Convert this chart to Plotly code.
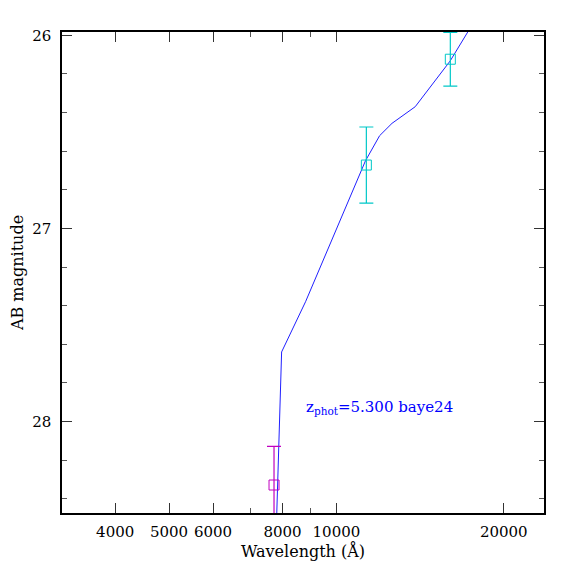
import math
import plotly.graph_objects as go

# Model SED (wavelength in Angstrom, AB magnitude)
model_wl = [7760, 7970, 8800, 9755, 11280, 11960, 12590, 13860, 14950, 16020, 17230, 18000]
model_mag = [28.75, 27.64, 27.38, 27.08, 26.65, 26.52, 26.456, 26.37, 26.249, 26.133, 25.983, 25.89]

# Photometric points
mag_wl = [7723]
mag_val = [28.329]
mag_err = [0.20]

cyan_wl = [11321, 16030]
cyan_val = [26.672, 26.124]
cyan_err = [0.197, 0.139]

x_tickvals = [4000, 5000, 6000, 8000, 10000, 20000]
x_ticktext = ["4000", "5000", "6000", "8000", "10000", "20000"]
x_minor = [7000, 9000]
y_tickvals = [26, 27, 28]
y_ticktext = ["26", "27", "28"]

x_range = [3209, 23630]
y_range = [28.474, 25.983]

label_text = "z<sub>phot</sub>=5.300 baye24"
label_wl = 8761
label_mag = 27.93

FONT = "DejaVu Serif"

fig = go.Figure()
fig.add_trace(go.Scatter(x=model_wl, y=model_mag, mode="lines",
                         line=dict(color="#2020ff", width=1), showlegend=False))
fig.add_trace(go.Scatter(x=mag_wl, y=mag_val, mode="markers",
                         marker=dict(symbol="square-open", size=10, color="#c000c0",
                                     line=dict(width=1, color="#c000c0")),
                         error_y=dict(type="data", array=mag_err, color="#c000c0",
                                      thickness=1.2, width=7),
                         cliponaxis=True, showlegend=False))
fig.add_trace(go.Scatter(x=cyan_wl, y=cyan_val, mode="markers",
                         marker=dict(symbol="square-open", size=10, color="#00c8c8",
                                     line=dict(width=1, color="#00c8c8")),
                         error_y=dict(type="data", array=cyan_err, color="#00c8c8",
                                      thickness=1.2, width=7),
                         cliponaxis=True, showlegend=False))

fig.add_annotation(x=math.log10(label_wl), y=label_mag, xref="x", yref="y", text=label_text,
                   showarrow=False, xanchor="left", yanchor="middle",
                   font=dict(family=FONT, size=15, color="#0000ff"))

fig.update_xaxes(type="log", range=[math.log10(v) for v in x_range],
                 tickvals=x_tickvals, ticktext=x_ticktext,
                 ticks="inside", ticklen=10, tickwidth=1, tickcolor="#333",
                 minor=dict(tickvals=x_minor, ticks="inside", ticklen=5, tickcolor="#555"),
                 showline=True, linecolor="black", linewidth=1.5, mirror="allticks",
                 showgrid=False, zeroline=False, automargin=False,
                 tickfont=dict(family=FONT, size=15, color="black"),
                 ticklabelstandoff=4,
                 title=dict(text="Wavelength (Å)", font=dict(family=FONT, size=16, color="black"),
                            standoff=4))
fig.update_yaxes(range=y_range, tickvals=y_tickvals, ticktext=y_ticktext,
                 ticks="inside", ticklen=10, tickwidth=1, tickcolor="#333",
                 minor=dict(dtick=0.2, ticks="inside", ticklen=5, tickcolor="#555"),
                 showline=True, linecolor="black", linewidth=1.5, mirror="allticks",
                 showgrid=False, zeroline=False, automargin=False,
                 tickfont=dict(family=FONT, size=15, color="black"),
                 ticklabelstandoff=6,
                 title=dict(text="AB magnitude", font=dict(family=FONT, size=16, color="black"),
                            standoff=12))

fig.update_layout(width=574, height=574, paper_bgcolor="white", plot_bgcolor="white",
                  margin=dict(l=54, r=38, t=24, b=69), showlegend=False)

fig.write_html("out.html")
